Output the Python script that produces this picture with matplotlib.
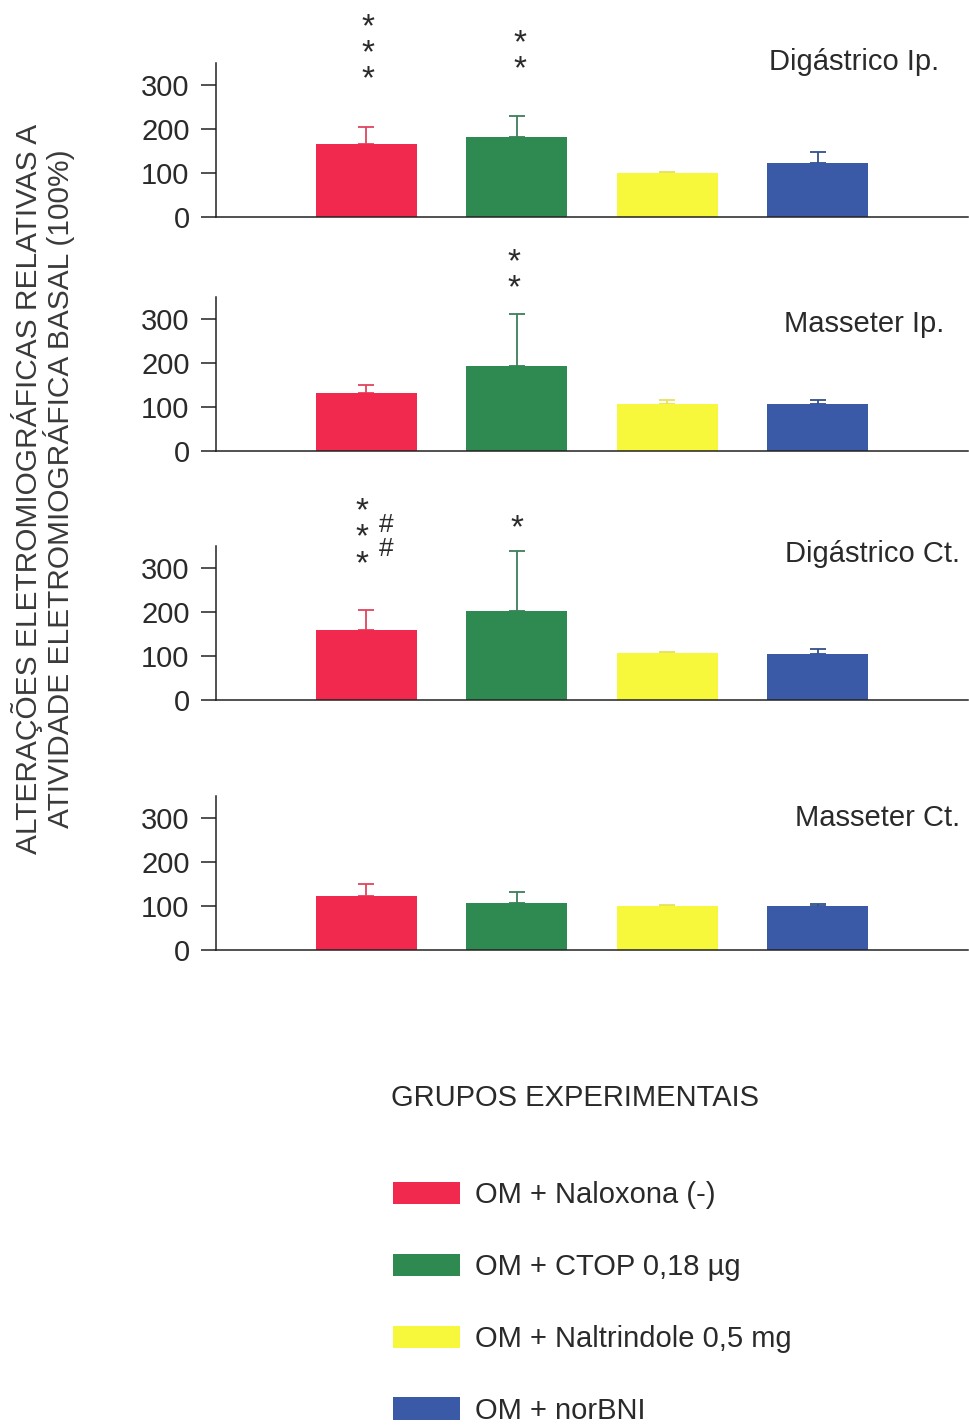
import matplotlib
matplotlib.use('Agg')
import matplotlib.pyplot as plt
from matplotlib.patches import Patch

plt.rcParams['font.family'] = ['Liberation Sans', 'DejaVu Sans']

groups = ['OM + Naloxona (-)', 'OM + CTOP 0,18 \u00b5g', 'OM + Naltrindole 0,5 mg', 'OM + norBNI']
colors = ['#f2294e', '#2f8a52', '#f7f73c', '#3a5aa8']
err_colors = ['#e0455f', '#3e7e5a', '#e8e060', '#34508a']

muscles = ['Digástrico Ip.', 'Masseter Ip.', 'Digástrico Ct.', 'Masseter Ct.']
means = [
    [166, 182, 100, 123],
    [131, 194, 106, 106],
    [160, 203, 106, 104],
    [122, 106, 99, 99],
]
sems = [
    [39, 48, 3, 25],
    [20, 117, 10, 9],
    [45, 135, 4, 13],
    [28, 26, 3, 5],
]
# significance marks per panel: (x, y centre, stacked symbols)
marks = [
    [(0.01, 383, '*\n*\n*'), (1.02, 377, '*\n*')],
    [(0.98, 411, '*\n*')],
    [(-0.03, 380, '*\n*\n*'), (0.13, 375, '#\n#'), (1.0, 402, '*')],
    [],
]

W, H = 969, 1426
fig = plt.figure(figsize=(W / 100, H / 100), dpi=100)

# panel baselines (px from top) and top of y range
baselines = [217, 451, 700, 950]
ppu = 0.44  # pixels per unit
ymax = 350
left_px, right_px = 216, 968
title_y = [352, 289, 332, 300]
title_x = [3.81, 3.84, 3.95, 3.95]

x = range(len(groups))
for i, ax_name in enumerate(muscles):
    h_px = ymax * ppu
    ax = fig.add_axes([left_px / W, 1 - baselines[i] / H, (right_px - left_px) / W, h_px / H])
    for j in x:
        ax.bar(j, means[i][j], width=0.67, color=colors[j], zorder=2)
        ax.errorbar(j, means[i][j], yerr=[[0], [sems[i][j]]], fmt='none',
                    ecolor=err_colors[j], elinewidth=1.3, capsize=5.5, capthick=1.3, zorder=1)
    ax.set_xlim(-1, 4)
    ax.set_ylim(0, ymax)
    ax.set_yticks([0, 100, 200, 300])
    ax.set_xticks([])
    ax.spines['top'].set_visible(False)
    ax.spines['right'].set_visible(False)
    for s in ['left', 'bottom']:
        ax.spines[s].set_linewidth(1.1)
        ax.spines[s].set_color('#222222')
    ax.tick_params(axis='y', direction='out', length=11, width=1.1, color='#222222',
                   labelsize=21, pad=8, labelcolor='#2a2a2a')
    ax.patch.set_alpha(0)
    ax.text(title_x[i], title_y[i], ax_name, ha='right', va='center', fontsize=21,
            color='#2a2a2a', clip_on=False)

    for xm, yc, sym in marks[i]:
        star = sym.startswith('*')
        ax.text(xm, yc - (12 if star else 4), sym, ha='center', va='center',
                fontsize=24 if star else 19, linespacing=0.8 if star else 0.98,
                color='#2a2a2a', clip_on=False)

fig.text(43 / W, 1 - 489 / H,
         'ALTERAÇÕES ELETROMIOGRÁFICAS RELATIVAS A\nATIVIDADE ELETROMIOGRÁFICA BASAL (100%)',
         rotation=90, ha='center', va='center', fontsize=21.5, color='#3a3a3a', linespacing=1.0)

fig.text(575 / W, 1 - 1098 / H, 'GRUPOS EXPERIMENTAIS', ha='center', va='center',
         fontsize=21, color='#2a2a2a')

handles = [Patch(facecolor=c, edgecolor='none') for c in colors]
fig.legend(handles, groups, loc='center left', bbox_to_anchor=(367 / W, 1 - 1303 / H),
           frameon=False, fontsize=21, handlelength=2.3, handleheight=0.8,
           labelspacing=1.5, handletextpad=0.5, labelcolor='#2a2a2a')

fig.savefig('out.png', dpi=100)
